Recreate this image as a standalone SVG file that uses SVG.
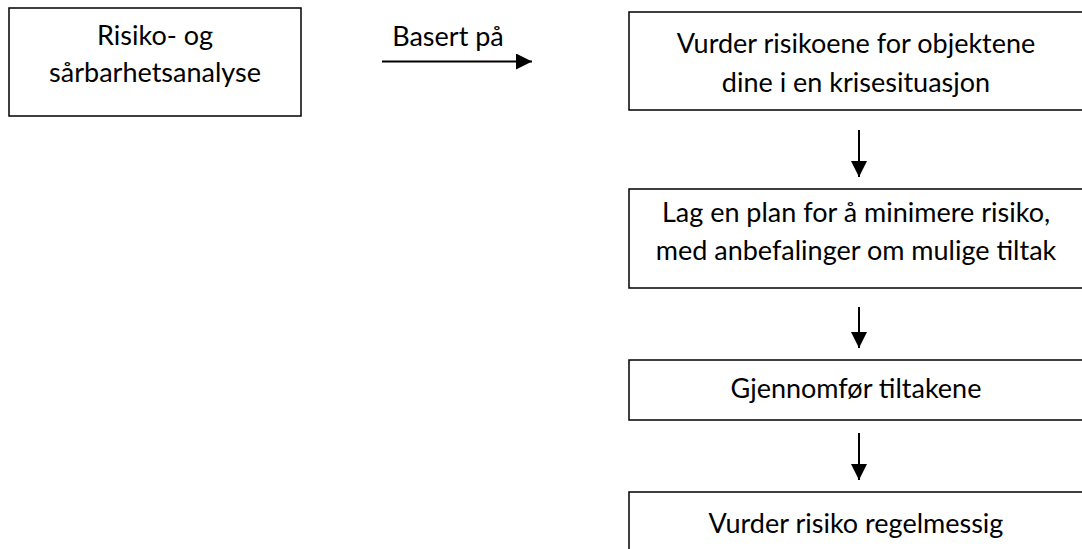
<svg xmlns="http://www.w3.org/2000/svg" width="1082" height="549" viewBox="0 0 1082 549">
<style>
.box{fill:#fff;stroke:#000;stroke-width:1.5}
.t{font-family:Lato,"Open Sans","DejaVu Sans",sans-serif;font-size:27px;fill:#000;text-anchor:middle}
.c{stroke:#000;stroke-width:2;fill:none}
</style>
<defs>
<marker id="ah" markerUnits="userSpaceOnUse" markerWidth="16" markerHeight="16" refX="16" refY="8" orient="auto">
<path d="M0,0 L16,8 L0,16 Z" fill="#000"/>
</marker>
</defs>
<g id="n1">
<rect class="box" x="9" y="8" width="292" height="108"/>
<text class="t" x="155" y="45">Risiko- og</text>
<text class="t" x="155" y="82">sårbarhetsanalyse</text>
</g>
<g id="n2">
<rect class="box" x="629" y="12" width="460" height="98"/>
<text class="t" x="856" y="53">Vurder risikoene for objektene</text>
<text class="t" x="856" y="92">dine i en krisesituasjon</text>
</g>
<g id="n3">
<rect class="box" x="629" y="189" width="460" height="99"/>
<text class="t" x="856" y="222">Lag en plan for å minimere risiko,</text>
<text class="t" x="856" y="260">med anbefalinger om mulige tiltak</text>
</g>
<g id="n4">
<rect class="box" x="629" y="360" width="460" height="60"/>
<text class="t" x="856" y="398">Gjennomfør tiltakene</text>
</g>
<g id="n5">
<rect class="box" x="629" y="492" width="460" height="80"/>
<text class="t" x="856" y="533">Vurder risiko regelmessig</text>
</g>
<g id="connectors">
<line class="c" x1="382" y1="61.5" x2="532" y2="61.5" marker-end="url(#ah)"/>
<text class="t" x="448" y="46">Basert på</text>
<line class="c" x1="859" y1="130" x2="859" y2="177" marker-end="url(#ah)"/>
<line class="c" x1="859" y1="307" x2="859" y2="348" marker-end="url(#ah)"/>
<line class="c" x1="859" y1="433" x2="859" y2="480" marker-end="url(#ah)"/>
</g>
</svg>
